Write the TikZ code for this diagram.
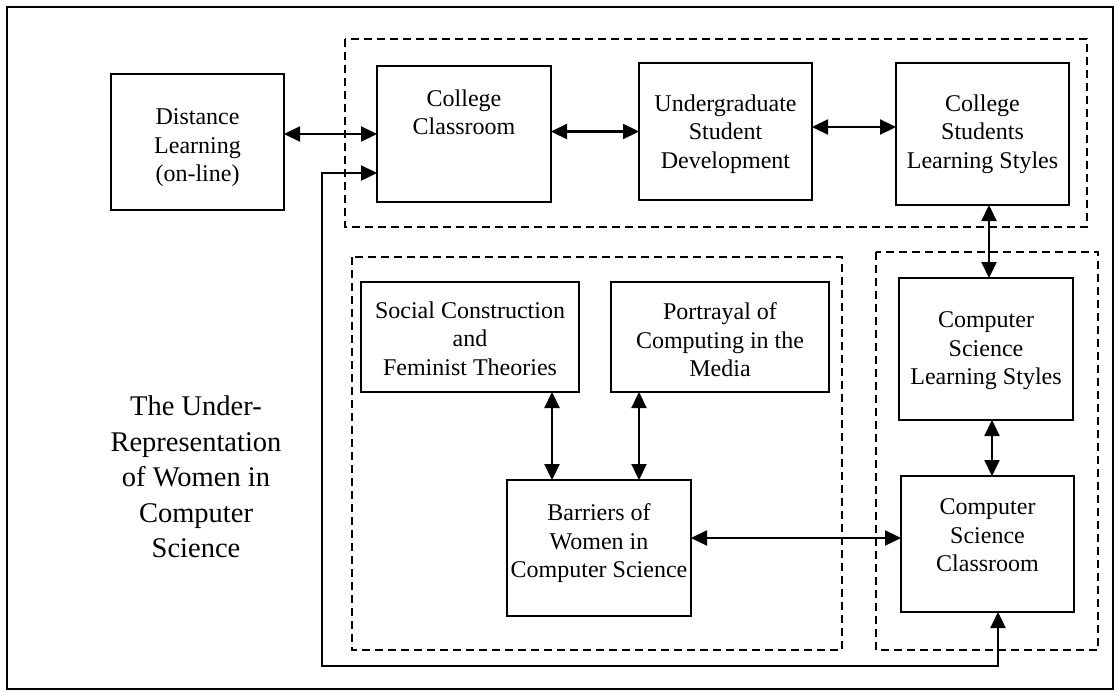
\documentclass[tikz,border=0pt]{standalone}
\usepackage{fontspec}
\setmainfont{Liberation Serif}
\usetikzlibrary{arrows.meta}
\begin{document}
\begin{tikzpicture}[x=1pt,y=-1pt,
  box/.style={draw, line width=1.7pt, inner sep=0pt, outer sep=0pt},
  txt/.style={anchor=north, inner sep=0pt, align=center, font=\fontsize{24}{28.5}\selectfont},
  titletxt/.style={anchor=north, inner sep=0pt, align=center, font=\fontsize{28.5}{35.5}\selectfont},
  dbox/.style={draw, line width=1.5pt, dash pattern=on 8pt off 5pt},
  dar/.style={line width=2.3pt, {Triangle[length=16pt,width=15pt]}-{Triangle[length=16pt,width=15pt]}},
]
\useasboundingbox (0,0) rectangle (1120,696);
% outer frame
\draw[line width=1.3pt] (7,7) rectangle (1113,689);
% dashed groups
\draw[dbox] (345,39) rectangle (1087,227);
\draw[dbox] (352,257) rectangle (842,650);
\draw[dbox] (876,252) rectangle (1098,650);
% boxes
\node[box, minimum width=173pt, minimum height=136pt] (dist) at (197.5,142) {};
\node[box, minimum width=174pt, minimum height=136pt] (cc) at (464,134) {};
\node[box, minimum width=173pt, minimum height=137pt] (ug) at (725.5,131.5) {};
\node[box, minimum width=173pt, minimum height=142pt] (csls) at (982.5,134) {};
\node[box, minimum width=218pt, minimum height=110pt] (soc) at (470,337) {};
\node[box, minimum width=218pt, minimum height=110pt] (por) at (720,337) {};
\node[box, minimum width=184pt, minimum height=136pt] (bar) at (599,548) {};
\node[box, minimum width=174pt, minimum height=142pt] (csl) at (986,349) {};
\node[box, minimum width=173pt, minimum height=136pt] (csc) at (987.5,544) {};
% texts
\node[txt] (distT) at (197.5,108.5) {Distance\\Learning\\(on-line)};
\node[txt] (ccT) at (464,89.5) {College\\Classroom};
\node[txt] (ugT) at (725.5,94.5) {Undergraduate\\Student\\Development};
\node[txt] (cslsT) at (982.5,94.5) {College\\Students\\Learning Styles};
\node[txt] (socT) at (470,301.5) {Social Construction\\and\\Feminist Theories};
\node[txt] (porT) at (720,302.5) {Portrayal of\\Computing in the\\Media};
\node[txt] (barT) at (599,503.5) {Barriers of\\Women in\\Computer Science};
\node[txt] (cslT) at (986,311.5) {Computer\\Science\\Learning Styles};
\node[txt] (cscT) at (987.5,498.5) {Computer\\Science\\Classroom};
\node[titletxt] (title) at (196,396) {The Under-\\Representation\\of Women in\\Computer\\Science};
% connectors
\draw[dar] (dist.east |- cc.west) -- (cc.west);
\draw[dar] (cc.east |- ug.west) -- (ug.west);
\draw[dar] ([yshift=4.5pt]ug.east) -- ([yshift=7pt]csls.west);
\draw[dar] ([xshift=6.5pt]csls.south) -- ([xshift=3pt]csl.north);
\draw[dar] ([xshift=6pt]csl.south) -- ([xshift=4.5pt]csc.north);
\draw[dar] ([xshift=82pt]soc.south) -- ([xshift=-47pt]bar.north);
\draw[dar] ([xshift=-81pt]por.south) -- ([xshift=40pt]bar.north);
\draw[dar] ([yshift=10pt]bar.east) -- ([yshift=6pt]csc.west);
\coordinate (fbl) at (322,666);
\draw[dar] ([yshift=-39pt]cc.west) -| (fbl) -| ([xshift=10.5pt]csc.south);
\end{tikzpicture}
\end{document}
